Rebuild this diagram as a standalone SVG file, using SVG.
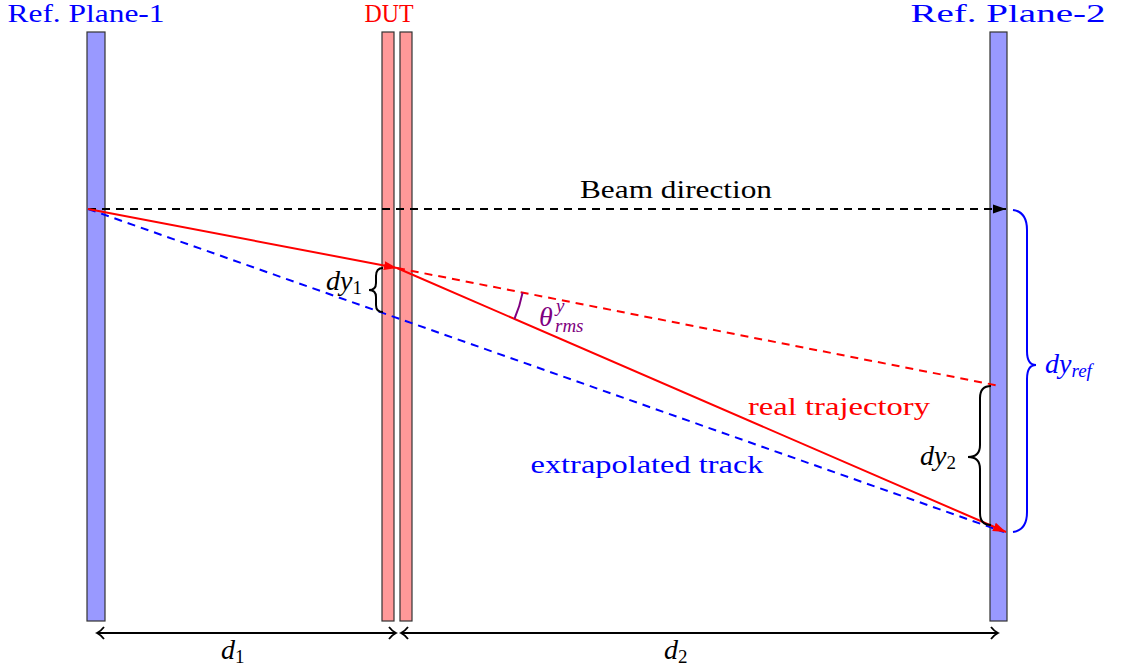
<svg xmlns="http://www.w3.org/2000/svg" width="1121" height="670" viewBox="0 0 1121 670" font-family="Liberation Serif, Tinos, Times New Roman, serif">
<style>
text{font-family:'Liberation Serif',Tinos,'Times New Roman',serif;font-size:26px}
.it{font-style:italic}
.m{font-size:28px}
.s{font-size:19px}
.blue{fill:#0000ff}.red{fill:#ff0000}.blk{fill:#000}.vio{fill:#800080}
.plane{fill:#9999ff;stroke:#333;stroke-width:1.2}
.dut{fill:#ff9999;stroke:#333;stroke-width:1.2}
.ln{fill:none;stroke-width:2}
.dash{stroke-dasharray:8 6}
</style>
<defs>
<marker id="ahK" markerUnits="userSpaceOnUse" markerWidth="14" markerHeight="10" refX="13" refY="5" orient="auto"><path d="M0,0.5 L13,5 L0,9.5 Z" fill="#000"/></marker>
<marker id="ahR" markerUnits="userSpaceOnUse" markerWidth="14" markerHeight="10" refX="13" refY="5" orient="auto"><path d="M0,0.5 L13,5 L0,9.5 Z" fill="#ff0000"/></marker>
<marker id="chev" markerUnits="userSpaceOnUse" markerWidth="10" markerHeight="14" refX="8" refY="7" orient="auto-start-reverse"><path d="M1,1 Q4,5 8,7 Q4,9 1,13" fill="none" stroke="#000" stroke-width="1.8"/></marker>
</defs>
<g id="plane1"><rect class="plane" x="87" y="32" width="18" height="589"/><text class="blue" x="86" y="22" text-anchor="middle" textLength="157" lengthAdjust="spacingAndGlyphs">Ref. Plane-1</text></g>
<g id="dut"><rect class="dut" x="382" y="32" width="12" height="589"/><rect class="dut" x="400" y="32" width="12" height="589"/><text class="red" x="389" y="22" text-anchor="middle" textLength="49" lengthAdjust="spacingAndGlyphs">DUT</text></g>
<g id="plane2"><rect class="plane" x="990" y="32" width="17" height="589"/><text class="blue" x="1008" y="22" text-anchor="middle" textLength="195" lengthAdjust="spacingAndGlyphs">Ref. Plane-2</text></g>
<g id="connectors">
<line class="ln dash" x1="88" y1="209" x2="1006" y2="209" stroke="#000" marker-end="url(#ahK)"/>
<line class="ln dash" x1="88" y1="209" x2="1004" y2="532" stroke="#0000ff"/>
<line class="ln" x1="88" y1="209" x2="397" y2="268" stroke="#ff0000" marker-end="url(#ahR)"/>
<line class="ln dash" x1="397" y1="268" x2="1000" y2="386" stroke="#ff0000"/>
<line class="ln" x1="397" y1="268" x2="1006" y2="532" stroke="#ff0000" marker-end="url(#ahR)"/>
<path class="ln" d="M522.6,292.6 A128,128 0 0 1 514.4,319" stroke="#800080"/>
<line class="ln" x1="97" y1="633" x2="396" y2="633" stroke="#000" stroke-width="1.8" marker-start="url(#chev)" marker-end="url(#chev)"/>
<line class="ln" x1="401" y1="633" x2="998" y2="633" stroke="#000" stroke-width="1.8" marker-start="url(#chev)" marker-end="url(#chev)"/>
<path class="ln" d="M383,268 Q376,268 376,276 L376,283 Q376,290 369,290 Q376,290 376,297 L376,305 Q376,312 383,312" stroke="#000"/>
<path class="ln" d="M991,386 Q980,386 980,398 L980,445 Q980,457 968,457 Q980,457 980,469 L980,513 Q980,525 991,525" stroke="#000"/>
<path class="ln" d="M1013,210 Q1027,212 1027,230 L1027,351 Q1027,365 1036,365 Q1027,365 1027,379 L1027,512 Q1027,530 1013,532" stroke="#0000ff"/>
</g>
<g id="labels">
<text class="blk" x="676" y="198" text-anchor="middle" textLength="192" lengthAdjust="spacingAndGlyphs">Beam direction</text>
<text class="red" x="839" y="415" text-anchor="middle" textLength="182" lengthAdjust="spacingAndGlyphs">real trajectory</text>
<text class="blue" x="647" y="473" text-anchor="middle" textLength="233" lengthAdjust="spacingAndGlyphs">extrapolated track</text>
<text class="blk m" x="326" y="290"><tspan class="it">dy</tspan><tspan class="s" dy="4">1</tspan></text>
<text class="blk m" x="920" y="465"><tspan class="it">dy</tspan><tspan class="s" dy="4">2</tspan></text>
<text class="blue m" x="1045" y="373"><tspan class="it">dy</tspan><tspan class="it s" dy="4">ref</tspan></text>
<text class="vio m" x="539" y="326"><tspan class="it">θ</tspan><tspan class="it s" x="556" y="312">y</tspan><tspan class="it s" x="555" y="332">rms</tspan></text>
<text class="blk m" x="221" y="659"><tspan class="it">d</tspan><tspan class="s" dy="4">1</tspan></text>
<text class="blk m" x="664" y="659"><tspan class="it">d</tspan><tspan class="s" dy="4">2</tspan></text>
</g>
</svg>
